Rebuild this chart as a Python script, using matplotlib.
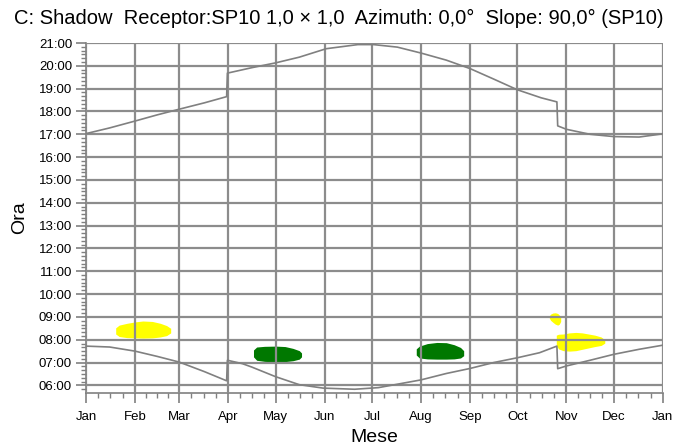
import numpy as np
import matplotlib.pyplot as plt
from matplotlib.ticker import FixedLocator, FuncFormatter, MultipleLocator

plt.rcParams['font.family'] = ['Liberation Sans', 'DejaVu Sans']

# Month starts (day of year) and labels
month_days = [0, 31, 59, 90, 120, 151, 181, 212, 243, 273, 304, 334, 365]
month_labels = ['Jan', 'Feb', 'Mar', 'Apr', 'May', 'Jun', 'Jul', 'Aug',
                'Sep', 'Oct', 'Nov', 'Dec', 'Jan']

# Sunset (hours, local time incl. DST)
sunset_day = [0, 15, 31, 45, 59, 75, 89, 89.5, 105, 120, 135, 152, 172, 182,
              197, 212, 228, 243, 258, 273, 288, 298, 298.5, 304, 319, 334,
              350, 365]
sunset_h = [17.03, 17.28, 17.58, 17.85, 18.1, 18.38, 18.65, 19.68, 19.92,
            20.13, 20.38, 20.75, 20.93, 20.93, 20.82, 20.56, 20.25, 19.88,
            19.42, 18.95, 18.6, 18.42, 17.37, 17.22, 17.0, 16.9, 16.88, 17.02]

# Sunrise (hours)
sunrise_day = [0, 15, 31, 45, 59, 75, 89, 89.5, 99, 105, 120, 135, 150, 170,
               185, 197, 212, 228, 243, 258, 273, 287, 298, 298.5, 304, 319,
               334, 350, 365]
sunrise_h = [7.72, 7.68, 7.5, 7.27, 7.02, 6.6, 6.2, 7.1, 6.95, 6.8, 6.38,
             6.03, 5.88, 5.83, 5.9, 6.05, 6.24, 6.52, 6.74, 7.0, 7.21, 7.43,
             7.72, 6.73, 6.85, 7.1, 7.36, 7.58, 7.76]

# Shadow periods: day, start hour, end hour
yel1_day = [18.8, 21, 26, 31, 36, 42, 47, 51, 53.6]
yel1_lo = [8.25, 8.14, 8.09, 8.08, 8.07, 8.08, 8.12, 8.18, 8.3]
yel1_hi = [8.52, 8.64, 8.72, 8.78, 8.82, 8.80, 8.72, 8.62, 8.5]

grn1_day = [106, 108, 113, 120, 126, 131, 135, 136.4]
grn1_lo = [7.25, 7.1, 7.05, 7.03, 7.04, 7.08, 7.15, 7.25]
grn1_hi = [7.55, 7.68, 7.71, 7.72, 7.70, 7.62, 7.52, 7.42]

grn2_day = [209, 211, 216, 222, 228, 233, 237, 239]
grn2_lo = [7.33, 7.2, 7.16, 7.15, 7.15, 7.16, 7.2, 7.3]
grn2_hi = [7.6, 7.72, 7.83, 7.88, 7.87, 7.78, 7.66, 7.52]

yel2_day = [293.2, 294, 295.5, 297, 298.5, 299.5, 300.4]
yel2_lo = [8.95, 8.85, 8.76, 8.68, 8.64, 8.68, 8.8]
yel2_hi = [9.05, 9.12, 9.17, 9.18, 9.15, 9.08, 8.98]

yel3_day = [297.6, 299, 302, 306, 310, 314, 318, 322, 326, 328.3]
yel3_lo = [7.78, 7.6, 7.52, 7.5, 7.52, 7.58, 7.64, 7.7, 7.75, 7.85]
yel3_hi = [8.2, 8.24, 8.25, 8.3, 8.32, 8.3, 8.25, 8.2, 8.12, 8.0]

fig = plt.figure(figsize=(6.77, 4.48), dpi=100)
ax = fig.add_axes([0.127, 0.123, 0.852, 0.781])

# Shadow areas
for d, lo, hi, c in [(yel1_day, yel1_lo, yel1_hi, '#ffff00'),
                     (grn1_day, grn1_lo, grn1_hi, '#007800'),
                     (grn2_day, grn2_lo, grn2_hi, '#007800'),
                     (yel2_day, yel2_lo, yel2_hi, '#ffff00'),
                     (yel3_day, yel3_lo, yel3_hi, '#ffff00')]:
    ax.fill_between(d, lo, hi, color=c, lw=0, zorder=1)

# Sunrise / sunset lines
ax.plot(sunset_day, sunset_h, color='#808080', lw=1.2, zorder=3)
ax.plot(sunrise_day, sunrise_h, color='#808080', lw=1.2, zorder=3)

ax.set_xlim(0, 365)
ax.set_ylim(5.67, 21.0)

# x ticks
ax.xaxis.set_major_locator(FixedLocator(month_days))
ax.set_xticklabels(month_labels)
minor_x = []
for i in range(12):
    a, b = month_days[i], month_days[i + 1]
    minor_x += [a + k * (b - a) / 4 for k in range(1, 4)]
ax.xaxis.set_minor_locator(FixedLocator(minor_x))

# y ticks
ax.yaxis.set_major_locator(FixedLocator(list(range(6, 22))))
ax.yaxis.set_major_formatter(FuncFormatter(lambda v, p: '%02d:00' % int(round(v))))
ax.yaxis.set_minor_locator(MultipleLocator(1 / 6))

ax.tick_params(which='major', length=7, width=1.2, color='#808080',
               labelsize=9.5, pad=3)
ax.tick_params(axis='x', which='major', pad=6)
ax.tick_params(which='minor', length=3.5, width=1.0, color='#808080')

ax.grid(True, which='major', color='#8c8c8c', lw=1.6)
ax.set_axisbelow(False)

for s in ['top', 'right']:
    ax.spines[s].set_visible(False)
for s in ['left', 'bottom']:
    ax.spines[s].set_color('#808080')
    ax.spines[s].set_linewidth(1.2)

ax.set_xlabel('Mese', fontsize=14, labelpad=4)
ax.set_ylabel('Ora', fontsize=14, labelpad=8)

fig.text(0.5, 0.958, 'C: Shadow  Receptor:SP10 1,0 \u00d7 1,0  Azimuth: 0,0\u00b0  Slope: 90,0\u00b0 (SP10)',
         ha='center', va='center', fontsize=14.5)

fig.savefig('out.png', dpi=100)
